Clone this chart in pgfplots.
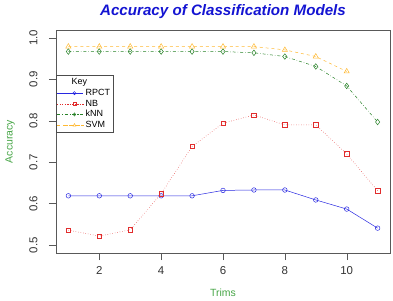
\documentclass[border=0pt]{standalone}
\usepackage{pgfplots}
\pgfplotsset{compat=1.18}
\usepackage{fontspec}
\setmainfont{Liberation Sans}
\definecolor{rblue}{RGB}{40,40,225}
\definecolor{rred}{RGB}{225,45,45}
\definecolor{rgreen}{RGB}{40,130,40}
\definecolor{rorange}{RGB}{255,185,50}
\definecolor{labgreen}{RGB}{70,165,70}
\definecolor{titleblue}{RGB}{20,20,210}
\begin{document}
\begin{tikzpicture}[x=1bp,y=1bp]
\path[use as bounding box] (0,0) rectangle (393,301);
\node[font=\fontsize{15.2}{17}\selectfont\bfseries\itshape, text=titleblue, inner sep=0] at (223,289) {Accuracy of Classification Models};
\begin{axis}[
  at={(56bp,48bp)}, anchor=south west,
  scale only axis, width=334bp, height=223bp,
  xmin=0.6, xmax=11.4, ymin=0.481, ymax=1.019,
  xtick={2,4,6,8,10}, ytick={0.5,0.6,0.7,0.8,0.9,1.0},
  /pgf/number format/assume math mode=true,
  yticklabel style={/pgf/number format/fixed, /pgf/number format/fixed zerofill, /pgf/number format/precision=1, xshift=-8bp, rotate=90, anchor=south},
  xticklabel style={yshift=-3bp},
  tick label style={font=\fontsize{11.5}{13}\selectfont, text=black!80},
  tick align=outside, major tick length=7bp,
  xtick pos=bottom, ytick pos=left,
  axis line style={black!65},
  every tick/.style={black!65},
  xlabel={Trims}, ylabel={Accuracy},
  label style={font=\fontsize{10.5}{12}\selectfont, text=labgreen},
  xlabel style={at={(axis description cs:0.5,0)}, anchor=center, yshift=-40bp},
  ylabel style={at={(axis description cs:0,0.5)}, anchor=center, yshift=46bp},
  legend style={at={(axis description cs:0,0.798)}, anchor=north west, draw=black!70, font=\fontsize{9}{9.5}\selectfont, row sep=-1.1pt, inner xsep=1pt, inner ysep=1.5pt, cells={anchor=west}},
  legend cell align=left,
  legend image code/.code={\path (0bp,0bp) -- (26bp,0bp); \draw[mark repeat=2,mark phase=2,#1,mark size=1.6bp] plot coordinates {(8bp,0bp)(17bp,0bp)(26bp,0bp)};},
  every axis plot/.append style={line width=0.5pt},
  mark options={solid, line width=0.5pt},
]
\addlegendimage{empty legend}
\addlegendentry{\hspace{-14bp}Key}
\addplot[rblue, mark=o, mark size=2.3bp] coordinates {(1,0.619)(2,0.619)(3,0.619)(4,0.619)(5,0.619)(6,0.632)(7,0.633)(8,0.633)(9,0.609)(10,0.587)(11,0.541)};
\addlegendentry{RPCT\hspace{3bp}}
\addplot[rred, dotted, mark=square, mark size=2.2bp] coordinates {(1,0.536)(2,0.522)(3,0.537)(4,0.624)(5,0.738)(6,0.794)(7,0.814)(8,0.790)(9,0.790)(10,0.720)(11,0.631)};
\addlegendentry{NB}
\addplot[rgreen, dash dot, mark=diamond, mark size=2.8bp] coordinates {(1,0.967)(2,0.967)(3,0.967)(4,0.967)(5,0.967)(6,0.967)(7,0.964)(8,0.955)(9,0.931)(10,0.884)(11,0.797)};
\addlegendentry{kNN}
\addplot[rorange, dashed, mark=triangle, mark size=3bp] coordinates {(1,0.979)(2,0.979)(3,0.979)(4,0.979)(5,0.979)(6,0.979)(7,0.979)(8,0.971)(9,0.955)(10,0.919)};
\addlegendentry{SVM}
\end{axis}
\end{tikzpicture}
\end{document}
